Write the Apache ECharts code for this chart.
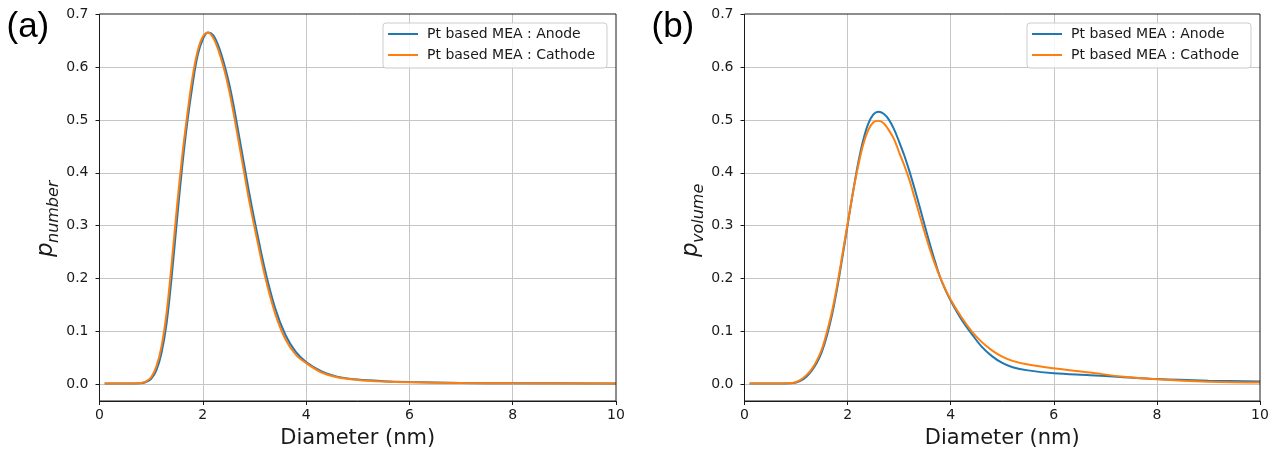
<!DOCTYPE html>
<html>
<head>
<meta charset="utf-8">
<script src="https://cdn.jsdelivr.net/npm/echarts@6/dist/echarts.min.js"></script>
<style>html,body{margin:0;padding:0;background:#fff}#c{width:1286px;height:454px}</style>
</head>
<body>
<div id="c"></div>
<script>
// ---------------- data ----------------
const seriesNames = ['Pt based MEA : Anode', 'Pt based MEA : Cathode'];
const xTickValues = [0, 2, 4, 6, 8, 10];
const yTickValues = [0.0, 0.1, 0.2, 0.3, 0.4, 0.5, 0.6, 0.7];
const panelLabels = ['(a)', '(b)'];
const yNames = ['number', 'volume'];

// panel (a): number distribution  [diameter nm, p]
const numberAnode = [[0.1,0],[0.5,0],[0.8,0.0005],[0.9,0.003],[1.0,0.009],[1.1,0.025],[1.2,0.058],[1.3,0.115],[1.4,0.205],[1.5,0.31],[1.6,0.41],[1.7,0.495],[1.8,0.565],[1.9,0.622],[2.0,0.652],[2.1,0.665],[2.2,0.66],[2.3,0.64],[2.4,0.61],[2.5,0.572],[2.6,0.525],[2.7,0.47],[2.8,0.415],[2.9,0.36],[3.0,0.31],[3.2,0.217],[3.4,0.143],[3.6,0.092],[3.8,0.06],[4.0,0.041],[4.3,0.023],[4.6,0.013],[5.0,0.0075],[5.5,0.0045],[6,0.003],[7,0.0012],[8,0.0006],[10,0.0002]];
const numberCathode = [[0.1,0],[0.5,0],[0.8,0.001],[0.9,0.004],[1.0,0.012],[1.1,0.032],[1.2,0.07],[1.3,0.135],[1.4,0.23],[1.5,0.335],[1.6,0.43],[1.7,0.51],[1.8,0.58],[1.9,0.63],[2.0,0.657],[2.1,0.665],[2.2,0.655],[2.3,0.632],[2.4,0.6],[2.5,0.56],[2.6,0.51],[2.7,0.455],[2.8,0.4],[2.9,0.345],[3.0,0.297],[3.2,0.205],[3.4,0.133],[3.6,0.084],[3.8,0.055],[4.0,0.039],[4.3,0.021],[4.6,0.012],[5.0,0.007],[5.5,0.004],[6,0.0025],[7,0.001],[8,0.0005],[10,0.0002]];

// panel (b): volume distribution  [diameter nm, p]
const volumeAnode = [[0.1,0],[0.6,0],[0.9,0.0005],[1.0,0.002],[1.1,0.006],[1.2,0.013],[1.3,0.024],[1.4,0.039],[1.5,0.06],[1.6,0.091],[1.7,0.131],[1.8,0.182],[1.9,0.24],[2.0,0.3],[2.1,0.36],[2.2,0.415],[2.3,0.46],[2.4,0.492],[2.5,0.51],[2.6,0.515],[2.7,0.511],[2.8,0.5],[2.9,0.482],[3.0,0.458],[3.1,0.432],[3.2,0.402],[3.3,0.369],[3.4,0.334],[3.5,0.298],[3.6,0.263],[3.7,0.23],[3.8,0.2],[3.9,0.177],[4.0,0.157],[4.2,0.123],[4.4,0.095],[4.6,0.07],[4.8,0.052],[5.0,0.039],[5.2,0.031],[5.5,0.025],[6.0,0.0195],[6.7,0.016],[7.3,0.0125],[8.0,0.0085],[9.0,0.0055],[10,0.004]];
const volumeCathode = [[0.1,0],[0.6,0],[0.9,0.001],[1.0,0.003],[1.1,0.008],[1.2,0.016],[1.3,0.027],[1.4,0.043],[1.5,0.065],[1.6,0.098],[1.7,0.138],[1.8,0.188],[1.9,0.245],[2.0,0.303],[2.1,0.36],[2.2,0.41],[2.3,0.452],[2.4,0.48],[2.5,0.495],[2.6,0.498],[2.7,0.493],[2.8,0.48],[2.9,0.463],[3.0,0.438],[3.1,0.413],[3.2,0.385],[3.3,0.352],[3.4,0.318],[3.5,0.285],[3.6,0.253],[3.7,0.225],[3.8,0.2],[3.9,0.178],[4.0,0.159],[4.2,0.127],[4.4,0.1],[4.6,0.079],[4.8,0.063],[5.0,0.051],[5.2,0.043],[5.5,0.036],[6.0,0.029],[6.7,0.021],[7.3,0.0135],[8.0,0.008],[9.0,0.0035],[10,0.002]];

const panelData = [[numberAnode, numberCathode], [volumeAnode, volumeCathode]];

// ---------------- layout / style ----------------
const X_MIN = 0, X_MAX = 10, X_STEP = 2;
const Y_LOW = -0.033, Y_MAX = 0.7, Y_STEP = 0.1;
const colors = ['#1f77b4', '#ff7f0e'];
const FONT = '"DejaVu Sans", sans-serif';
const panels = [{left: 99.5, width: 516.5}, {left: 744.5, width: 515.5}];
const TOP = 14, FRAME_H = 388;
const OVER_H = FRAME_H * (Y_MAX - 0) / (Y_MAX - Y_LOW);
const gridColor = '#c6c6c6', spineColor = '#1a1a1a', textColor = '#1a1a1a';

const grid = [], xAxis = [], yAxis = [], series = [], legend = [], graphic = [];
panels.forEach((p, i) => {
  // frame grid (full axes box, data drawn here)
  grid.push({left: p.left, top: TOP, width: p.width, height: FRAME_H, show: true, z: 10,
    borderColor: spineColor, borderWidth: 1, backgroundColor: 'transparent'});
  // overlay grid: 0 .. 0.7 range for labelled y ticks
  grid.push({left: p.left, top: TOP, width: p.width, height: OVER_H, show: false});
  const g0 = 2 * i, g1 = 2 * i + 1;
  xAxis.push({type: 'value', gridIndex: g0, min: X_MIN, max: X_MAX, interval: X_STEP,
    name: 'Diameter (nm)', nameLocation: 'middle', nameGap: 27,
    nameTextStyle: {fontFamily: FONT, fontSize: 21, color: textColor},
    axisLine: {show: true, onZero: false, lineStyle: {color: spineColor, width: 1}},
    axisTick: {show: true, inside: false, length: 4, lineStyle: {color: spineColor}},
    axisLabel: {fontFamily: FONT, fontSize: 14, color: textColor, margin: 7},
    splitLine: {show: true, showMinLine: false, showMaxLine: false, lineStyle: {color: gridColor, width: 1}}});
  xAxis.push({type: 'value', gridIndex: g1, min: X_MIN, max: X_MAX, show: false});
  yAxis.push({type: 'value', gridIndex: g0, min: Y_LOW, max: Y_MAX, show: false,
    splitLine: {show: false}});
  yAxis.push({type: 'value', gridIndex: g1, min: 0, max: Y_MAX, interval: Y_STEP,
    axisLine: {show: false},
    axisTick: {show: true, inside: false, length: 4, lineStyle: {color: spineColor}},
    axisLabel: {fontFamily: FONT, fontSize: 14, color: textColor, margin: 11,
      formatter: v => v.toFixed(1)},
    splitLine: {show: true, showMaxLine: false, lineStyle: {color: gridColor, width: 1}}});
  panelData[i].forEach((d, k) => {
    series.push({type: 'line', name: seriesNames[k], xAxisIndex: g0, yAxisIndex: g0,
      data: d, showSymbol: false, smooth: 0.35, clip: true,
      lineStyle: {color: colors[k], width: 2}, itemStyle: {color: colors[k]},
      z: 3 + k});
  });
  legend.push({orient: 'vertical', left: p.left + p.width - 8 - 225, top: 23,
    data: seriesNames.map((n, k) => ({name: n, itemStyle: {color: colors[k]}})),
    icon: 'rect', itemWidth: 30, itemHeight: 2, itemGap: 5,
    padding: [3, 12, 5, 5],
    textStyle: {fontFamily: FONT, fontSize: 14, color: textColor, lineHeight: 16, padding: [0, 0, 0, 4]},
    backgroundColor: 'rgba(255,255,255,0.85)', borderColor: '#cccccc', borderWidth: 1, borderRadius: 3,
    selectedMode: false});
  // panel tag
  graphic.push({type: 'text', left: p.left - 93, top: 10,
    style: {text: panelLabels[i], font: '35px "Liberation Sans", Arial, sans-serif', fill: '#000'}});
  // y axis title: p with italic subscript, rotated
  graphic.push({type: 'group', x: p.left - 46, y: 257, rotation: Math.PI / 2,
    children: [
      {type: 'text', x: 0, y: -7, style: {text: 'p', font: 'italic 23px ' + FONT, fill: textColor, verticalAlign: 'middle', align: 'left'}},
      {type: 'text', x: 14, y: 0, style: {text: yNames[i], font: 'italic 16px ' + FONT, fill: textColor, verticalAlign: 'middle', align: 'left'}}
    ]});
});

const chart = echarts.init(document.getElementById('c'), null, {renderer: 'canvas'});
chart.setOption({animation: false, backgroundColor: '#fff', grid, xAxis, yAxis, series, legend, graphic,
  tooltip: {show: false}});
</script>
</body>
</html>
